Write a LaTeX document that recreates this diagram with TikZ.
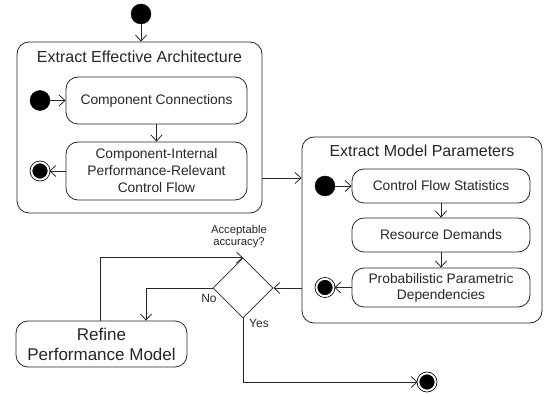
\documentclass[tikz,border=0pt]{standalone}
\usepackage{fontspec}
\setmainfont{Liberation Sans}
\usetikzlibrary{arrows.meta,shapes.geometric}
\begin{document}
\begin{tikzpicture}[x=1pt,y=-1pt,
  every node/.style={text=black!85},
  arr/.style={draw=black!85,line width=0.8pt,-{Straight Barb[length=6pt,width=11pt,line width=0.8pt]}},
  ln/.style={draw=black!85,line width=0.8pt},
  outerbox/.style={draw=black!85,line width=0.8pt,rounded corners=12pt,inner sep=0pt},
  statebox/.style={draw=black!85,line width=0.8pt,rounded corners=12pt,inner sep=2pt,align=center,font=\fontsize{13.8}{17}\selectfont},
  initnode/.style={circle,fill=black,draw=black,minimum size=20pt,inner sep=0pt},
  finnode/.style={circle,fill=black,draw=white,line width=1.6pt,minimum size=17pt,inner sep=0pt,
    append after command={\pgfextra{\draw[black,line width=0.7pt] (\tikzlastnode.center) circle (10pt);}}},
  titlefont/.style={font=\fontsize{16}{18}\selectfont},
  small/.style={font=\fontsize{11.3}{12}\selectfont,align=center},
  lbl/.style={font=\fontsize{12}{14}\selectfont}
]
\useasboundingbox (0,0) rectangle (549,395);

% top start
\node[initnode] (init0) at (141,14) {};

% Extract Effective Architecture
\node[outerbox,minimum width=245pt,minimum height=171pt] (eea) at (139.5,127.5) {};
\node[titlefont] (eeat) at (139.5,57) {Extract Effective Architecture};
\node[statebox,minimum width=181pt,minimum height=47pt] (cc) at (156.5,100.5) {Component Connections};
\node[statebox,minimum width=181pt,minimum height=58pt] (ci) at (156.5,171) {Component-Internal\\Performance-Relevant\\Control Flow};
\node[initnode] (init1) at (40,100.5) {};
\node[finnode] (fin1) at (40,171) {};

% Extract Model Parameters
\node[outerbox,minimum width=240pt,minimum height=186pt] (emp) at (422,230) {};
\node[titlefont] (empt) at (422,151) {Extract Model Parameters};
\node[statebox,minimum width=178pt,minimum height=34pt] (cfs) at (441,186) {Control Flow Statistics};
\node[statebox,minimum width=178pt,minimum height=34pt] (rd) at (441,235) {Resource Demands};
\node[statebox,minimum width=178pt,minimum height=39pt,font=\fontsize{13.8}{16}\selectfont] (ppd) at (441,287.5) {Probabilistic Parametric\\Dependencies};
\node[initnode] (init2) at (325,186) {};
\node[finnode] (fin2) at (325,287.5) {};

% decision
\node[diamond,draw=black!85,line width=0.8pt,minimum width=60pt,minimum height=60pt,inner sep=0pt] (dia) at (243,288) {};
\node[small] (acc) at (239,237) {Acceptable\\accuracy?};
\node[lbl] (no) at (209,298) {No};
\node[lbl] (yes) at (259,323) {Yes};

% refine
\node[statebox,minimum width=171pt,minimum height=46pt,font=\fontsize{17}{20}\selectfont] (ref) at (101.5,344) {Refine\\Performance Model};

% end
\node[finnode] (fin3) at (427,382) {};

% connectors
\draw[arr] (init0) -- (init0 |- eea.north);
\draw[arr] (init1) -- (cc.west);
\draw[arr] (cc) -- (ci);
\draw[arr] (ci.west) -- (fin1);
\coordinate (eeaout) at ([yshift=-50.5pt]eea.east);
\draw[arr] (eeaout) -- (eeaout -| emp.west);
\draw[arr] (init2) -- (cfs.west);
\draw[arr] (cfs) -- (rd);
\draw[arr] (rd) -- (ppd);
\draw[arr] (ppd.west) -- (fin2);
\draw[arr] (emp.west |- dia.east) -- (dia.east);
\draw[arr] (dia.west) -| ([xshift=44.5pt]ref.north);
\draw[arr] ([xshift=-1.5pt]ref.north) |- (dia.north);
\draw[arr] (dia.south) |- (fin3);
\end{tikzpicture}
\end{document}
